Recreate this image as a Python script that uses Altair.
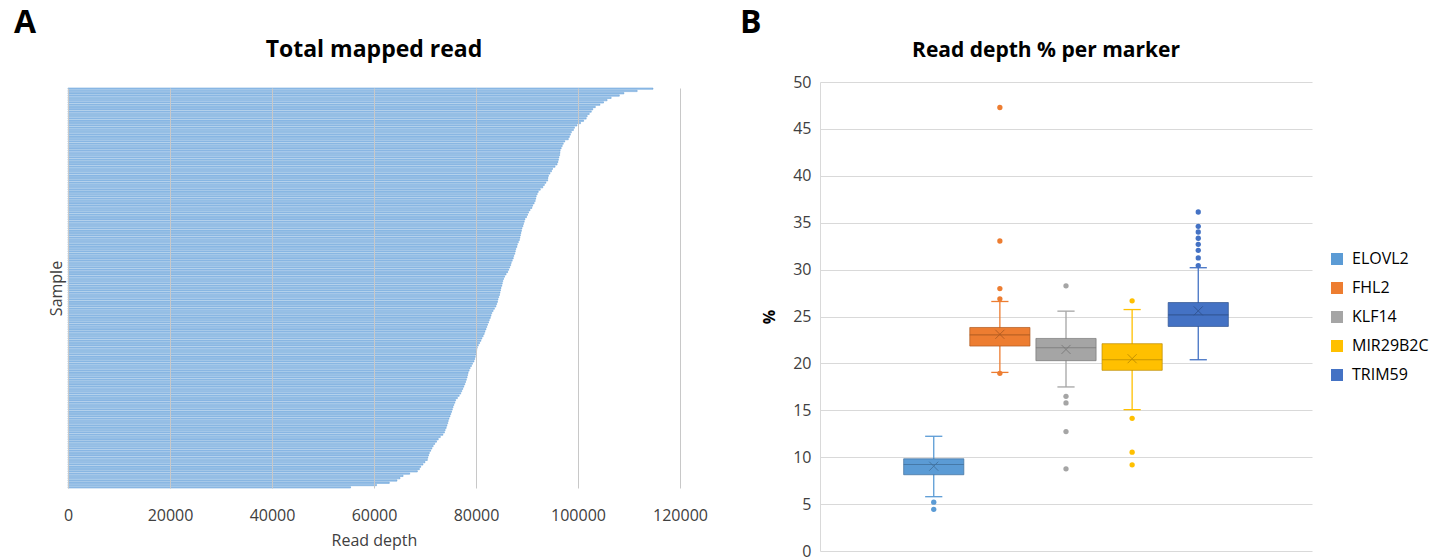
import altair as alt
import pandas as pd

# ---------------- Panel A: total mapped reads per sample (sorted high to low)
read_depth = [
    114700, 111600, 109000, 108100, 106500, 105700, 105000, 104300, 103400, 102900,
    102600, 102200, 101800, 101600, 101100, 100500, 99800, 99300, 99100, 98700,
    98500, 98300, 98100, 97400, 97100, 96900, 96700, 96500, 96450, 96400,
    96250, 96150, 96050, 95900, 95500, 95000, 94800, 94500, 94200, 94100,
    94050, 93700, 93400, 93100, 92600, 92200, 92000, 91800, 91700, 91600,
    91400, 91100, 90950, 90600, 90300, 90100, 89900, 89600, 89450, 89300,
    89200, 89000, 88900, 88800, 88700, 88600, 88500, 88300, 88100, 88000,
    87800, 87700, 87600, 87400, 87300, 87100, 86900, 86800, 86600, 86400,
    86200, 85900, 85600, 85400, 85250, 85150, 85050, 84900, 84800, 84700,
    84600, 84450, 84300, 84200, 84050, 83900, 83600, 83350, 83100, 82950,
    82800, 82600, 82450, 82250, 82100, 81950, 81750, 81600, 81400, 81150,
    80950, 80700, 80450, 80250, 80150, 80050, 79950, 79850, 79750, 79600,
    79300, 79100, 78850, 78650, 78450, 78350, 78250, 78100, 77950, 77800,
    77600, 77400, 77200, 77000, 76700, 76350, 76000, 75850, 75650, 75500,
    75350, 75200, 75050, 74900, 74700, 74550, 74450, 74300, 74150, 73950,
    73800, 73500, 73000, 72600, 72250, 71900, 71600, 71350, 71100, 70850,
    70700, 70550, 70450, 70000, 69600, 69150, 68900, 68500, 67000, 65700,
    65100, 64500, 63000, 60500, 55400,
]
sample_ids = [f"S{i + 1:03d}" for i in range(len(read_depth))]
depth_ticks = [0, 20000, 40000, 60000, 80000, 100000, 120000]

# ---------------- Panel B: read depth % per marker (box plot statistics)
markers = ["ELOVL2", "FHL2", "KLF14", "MIR29B2C", "TRIM59"]
whisker_low = [5.79, 19.04, 17.49, 15.07, 20.39]
q1 = [8.13, 21.85, 20.29, 19.26, 23.94]
median = [9.22, 23.05, 21.67, 20.39, 25.18]
mean = [9.04, 23.10, 21.49, 20.50, 25.60]
q3 = [9.83, 23.83, 22.66, 22.10, 26.49]
whisker_high = [12.23, 26.60, 25.57, 25.74, 30.20]

outliers_elovl2 = [5.21, 4.44]
outliers_fhl2 = [47.28, 33.05, 27.98, 26.88, 18.94]
outliers_klf14 = [28.27, 16.49, 15.79, 12.73, 8.76]
outliers_mir29b2c = [26.67, 14.15, 10.53, 9.19]
outliers_trim59 = [30.43, 31.24, 32.06, 32.70, 33.34, 34.01, 34.61, 36.14]
pct_ticks = [0, 5, 10, 15, 20, 25, 30, 35, 40, 45, 50]

marker_colors = ["#5B9BD5", "#ED7D31", "#A5A5A5", "#FFC000", "#4472C4"]
marker_edges = ["#41719C", "#AE5A21", "#787878", "#BC8C00", "#2F528F"]

FONT = "Open Sans"
TEXT = "#404040"
GRID = "#d9d9d9"


def label(text, x, y, size, weight="bold", align="left"):
    """A free-standing text (panel letter or panel heading) in view pixels."""
    return alt.Chart(pd.DataFrame({"t": [text]})).mark_text(
        fontSize=size, fontWeight=weight, align=align, baseline="alphabetic",
        color="black", font=FONT,
    ).encode(x=alt.value(x), y=alt.value(y), text="t:N")


# ---------------- Panel A chart
df_a = pd.DataFrame({"sample": sample_ids, "depth": read_depth})

bars = alt.Chart(df_a).mark_bar(
    color="#9fc4ea", stroke="#5b9bd5", strokeWidth=0.5
).encode(
    x=alt.X(
        "depth:Q",
        scale=alt.Scale(domain=[0, 120000], nice=False),
        axis=alt.Axis(
            values=depth_ticks, format="d", title="Read depth",
            grid=True, gridColor="#c8c8c8", ticks=False, domain=False,
            labelFontSize=16, labelColor=TEXT, labelPadding=13, labelFlush=False,
            titleFontSize=16, titleFontWeight="normal", titleColor=TEXT,
            titlePadding=9, zindex=1,
        ),
    ),
    y=alt.Y(
        "sample:N",
        sort=sample_ids,
        scale=alt.Scale(range=[6, 406], paddingInner=0.42, paddingOuter=0),
        axis=alt.Axis(
            title="Sample", labels=False, ticks=False, domain=False, grid=False,
            titleFontSize=16, titleFontWeight="normal", titleColor=TEXT,
            titlePadding=4,
        ),
    ),
)

panel_a = alt.layer(
    bars,
    label("A", -54, -49, 32),
    label("Total mapped read", 306, -25, 23, align="center"),
).properties(width=612, height=412)

# ---------------- Panel B chart
df_box = pd.DataFrame({
    "marker": markers,
    "pos": list(range(1, len(markers) + 1)),
    "w_lo": whisker_low,
    "q1": q1,
    "median": median,
    "mean": mean,
    "q3": q3,
    "w_hi": whisker_high,
})

out_rows = []
for name, vals in zip(
    markers,
    [outliers_elovl2, outliers_fhl2, outliers_klf14, outliers_mir29b2c, outliers_trim59],
):
    for v in vals:
        out_rows.append({"marker": name, "pos": markers.index(name) + 1, "value": v})
df_out = pd.DataFrame(out_rows)

xs = alt.Scale(domain=[-0.72, 6.72], nice=False, zero=False)
ys = alt.Scale(domain=[0, 50], nice=False)
y_axis = alt.Axis(
    values=pct_ticks, title="%", grid=True, gridColor=GRID, domainColor=GRID,
    ticks=False, labelFontSize=16, labelColor=TEXT, labelPadding=9,
    titleFontSize=16, titleFontWeight="bold", titleColor="black", titlePadding=15,
)
fill_scale = alt.Scale(domain=markers, range=marker_colors)
edge_scale = alt.Scale(domain=markers, range=marker_edges)
marker_legend = alt.Legend(
    title=None, orient="none", legendX=1261, legendY=169,
    symbolType="square", symbolSize=144, symbolStrokeWidth=0,
    labelFontSize=16, labelColor="black", labelFont=FONT,
    rowPadding=13, labelOffset=7,
)
fill_enc = alt.Color("marker:N", scale=fill_scale, legend=marker_legend)
edge_enc = alt.Stroke("marker:N", scale=edge_scale, legend=None)

base = alt.Chart(df_box).transform_calculate(
    b_lo="datum.pos - 0.455", b_hi="datum.pos + 0.455",
    c_lo="datum.pos - 0.13", c_hi="datum.pos + 0.13",
)

whiskers = base.mark_rule(strokeWidth=1.3).encode(
    x=alt.X("pos:Q", scale=xs, axis=None),
    y=alt.Y("w_lo:Q", scale=ys, axis=y_axis),
    y2="w_hi:Q",
    color=fill_enc,
)

caps = base.transform_fold(["w_lo", "w_hi"], as_=["end", "val"]).mark_rule(
    strokeWidth=1.3
).encode(
    x=alt.X("c_lo:Q", scale=xs, axis=None),
    x2="c_hi:Q",
    y=alt.Y("val:Q", scale=ys, axis=y_axis),
    color=fill_enc,
)

boxes = base.mark_rect(strokeWidth=1, strokeOpacity=0.7).encode(
    x=alt.X("b_lo:Q", scale=xs, axis=None),
    x2="b_hi:Q",
    y=alt.Y("q1:Q", scale=ys, axis=y_axis),
    y2="q3:Q",
    color=fill_enc,
    stroke=edge_enc,
)

medians = base.mark_rule(strokeWidth=1.2, opacity=0.8).encode(
    x=alt.X("b_lo:Q", scale=xs, axis=None),
    x2="b_hi:Q",
    y=alt.Y("median:Q", scale=ys, axis=y_axis),
    stroke=edge_enc,
)

means = base.mark_point(
    shape="M-1,-1L1,1M-1,1L1,-1", size=81, filled=False, strokeWidth=1, opacity=0.85
).encode(
    x=alt.X("pos:Q", scale=xs, axis=None),
    y=alt.Y("mean:Q", scale=ys, axis=y_axis),
    stroke=edge_enc,
)

dots = alt.Chart(df_out).mark_circle(size=28, opacity=1).encode(
    x=alt.X("pos:Q", scale=xs, axis=None),
    y=alt.Y("value:Q", scale=ys, axis=y_axis),
    color=fill_enc,
)

panel_b = alt.layer(
    whiskers, caps, boxes, medians, means, dots,
    label("B", -80, -49, 32),
    label("Read depth % per marker", 226, -25, 21, align="center"),
).properties(width=492, height=469)

# Fixed canvas: the view origin sits at (68, 82) and the padding fills the
# rest of a 1438 x 559 page.
chart = (
    alt.hconcat(panel_a, panel_b, spacing=140, bounds="flush")
    .properties(
        autosize=alt.AutoSizeParams(type="none"),
        padding={"left": 68, "top": 82, "right": 1370, "bottom": 477},
    )
    .configure(font=FONT)
    .configure_view(stroke=None)
)

chart.save("out.html", embed_options={"renderer": "svg", "actions": False})
